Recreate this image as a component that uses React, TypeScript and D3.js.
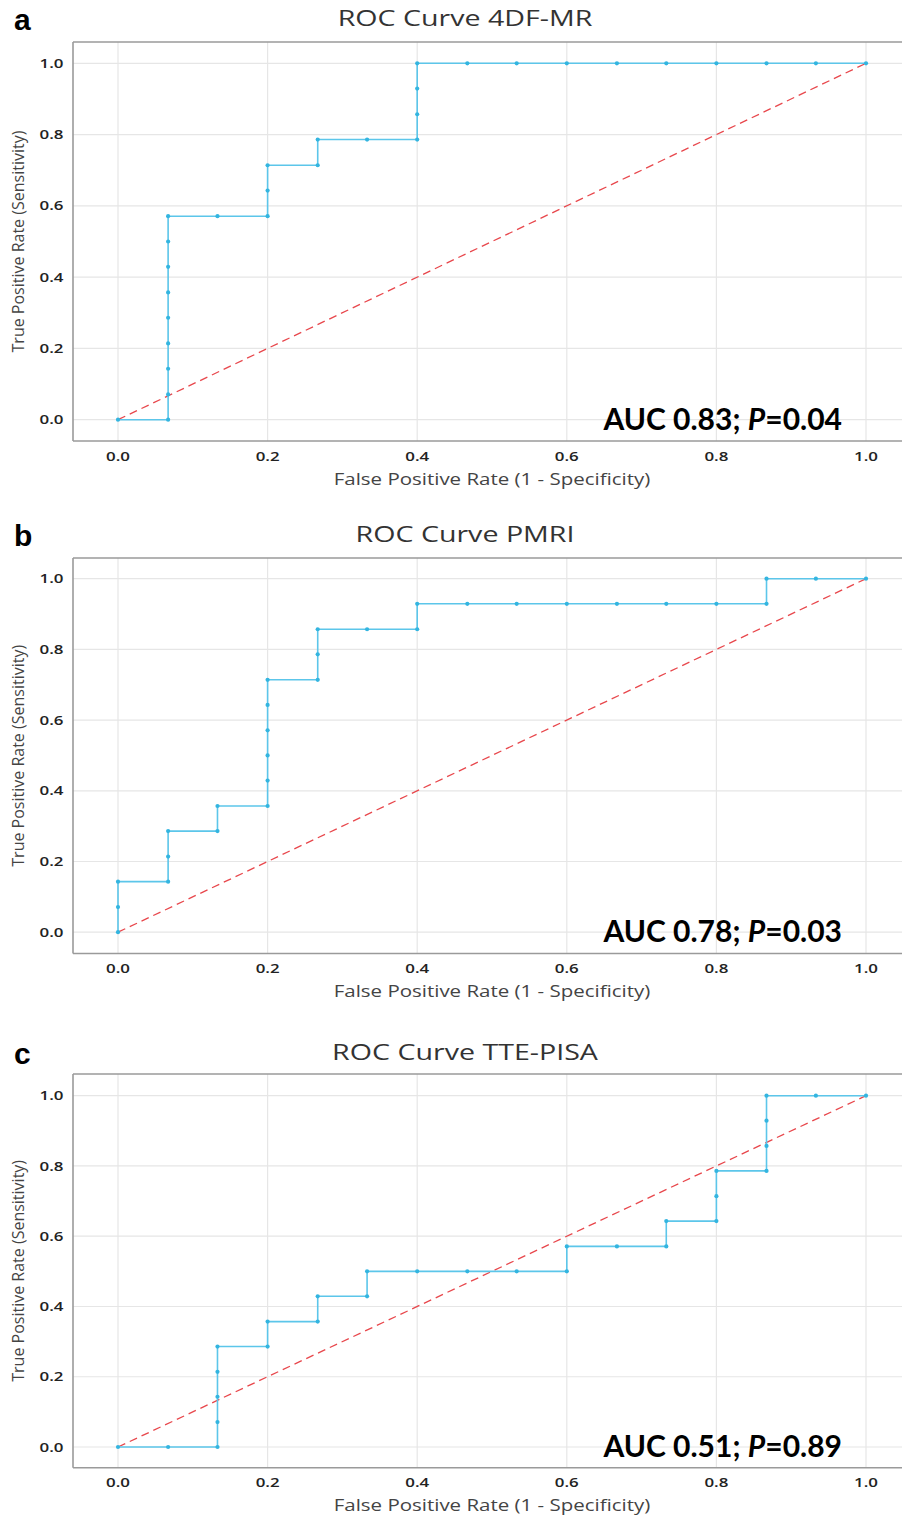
import React from 'react';
import * as d3 from 'd3';

const TICKS = [0, 0.2, 0.4, 0.6, 0.8, 1.0];

const fprA = [0, 0.067, 0.067, 0.067, 0.067, 0.067, 0.067, 0.067, 0.067, 0.067, 0.133, 0.2, 0.2, 0.2, 0.267, 0.267, 0.333, 0.4, 0.4, 0.4, 0.4, 0.467, 0.533, 0.6, 0.667, 0.733, 0.8, 0.867, 0.933, 1.0];
const tprA = [0, 0, 0.071, 0.143, 0.214, 0.286, 0.357, 0.429, 0.5, 0.571, 0.571, 0.571, 0.643, 0.714, 0.714, 0.786, 0.786, 0.786, 0.857, 0.929, 1, 1, 1, 1, 1, 1, 1, 1, 1, 1];

const fprB = [0, 0, 0, 0.067, 0.067, 0.067, 0.133, 0.133, 0.2, 0.2, 0.2, 0.2, 0.2, 0.2, 0.267, 0.267, 0.267, 0.333, 0.4, 0.4, 0.467, 0.533, 0.6, 0.667, 0.733, 0.8, 0.867, 0.867, 0.933, 1.0];
const tprB = [0, 0.071, 0.143, 0.143, 0.214, 0.286, 0.286, 0.357, 0.357, 0.429, 0.5, 0.571, 0.643, 0.714, 0.714, 0.786, 0.857, 0.857, 0.857, 0.929, 0.929, 0.929, 0.929, 0.929, 0.929, 0.929, 0.929, 1, 1, 1];

const fprC = [0, 0.067, 0.133, 0.133, 0.133, 0.133, 0.133, 0.2, 0.2, 0.267, 0.267, 0.333, 0.333, 0.4, 0.467, 0.533, 0.6, 0.6, 0.667, 0.733, 0.733, 0.8, 0.8, 0.8, 0.867, 0.867, 0.867, 0.867, 0.933, 1.0];
const tprC = [0, 0, 0, 0.071, 0.143, 0.214, 0.286, 0.286, 0.357, 0.357, 0.429, 0.429, 0.5, 0.5, 0.5, 0.5, 0.5, 0.571, 0.571, 0.571, 0.643, 0.643, 0.714, 0.786, 0.786, 0.857, 0.929, 1, 1, 1];

const panelLetters = ['a', 'b', 'c'];
const panelTitles = ['ROC Curve 4DF-MR', 'ROC Curve PMRI', 'ROC Curve TTE-PISA'];
const aucLabels = ['0.83', '0.78', '0.51'];
const pLabels = ['0.04', '0.03', '0.89'];

// layout of each panel on the page (px)
const PANELS = [
  { top: 42, yTop: 63.3, yBottom: 419.7, bottom: 441, title: 18, letter: 30 },
  { top: 558, yTop: 578.7, yBottom: 932.2, bottom: 953.5, title: 534, letter: 546 },
  { top: 1074, yTop: 1095.7, yBottom: 1447, bottom: 1467.7, title: 1052, letter: 1064 },
];

const WIDTH = 902;
const HEIGHT = 1516;
const FRAME_LEFT = 73;
const X0 = 118;
const X1 = 866;
// the source figure is stretched sideways, so its text is too
const STRETCH = 1.3;

const SANS = '"Open Sans", "Noto Sans", sans-serif';
const LINE_COLOR = '#5cc6ea';
const DOT_COLOR = '#33b5e0';
const REF_COLOR = '#e8474c';

const xScale = d3.scaleLinear().domain([0, 1]).range([X0, X1]);

const Panel = ({ idx, fpr, tpr }: { idx: number; fpr: number[]; tpr: number[] }) => {
  const p = PANELS[idx];
  const yScale = d3.scaleLinear().domain([0, 1]).range([p.yBottom, p.yTop]);
  const pts = fpr.map((f, i) => [f, tpr[i]] as [number, number]);
  const line = d3.line<[number, number]>()
    .x(d => xScale(d[0]))
    .y(d => yScale(d[1]));
  const diag = line([[0, 0], [1, 1]]);

  return (
    <g>
      {TICKS.map(t => (
        <line key={`gx${t}`} x1={xScale(t)} x2={xScale(t)} y1={p.top} y2={p.bottom}
          stroke="#e6e6e6" strokeWidth={1.2} />
      ))}
      {TICKS.map(t => (
        <line key={`gy${t}`} x1={FRAME_LEFT} x2={WIDTH} y1={yScale(t)} y2={yScale(t)}
          stroke="#e6e6e6" strokeWidth={1.2} />
      ))}
      <line x1={FRAME_LEFT} x2={WIDTH} y1={p.top} y2={p.top} stroke="#9a9a9a" strokeWidth={1.4} />
      <line x1={FRAME_LEFT} x2={FRAME_LEFT} y1={p.top} y2={p.bottom} stroke="#9a9a9a" strokeWidth={1.6} />
      <line x1={FRAME_LEFT} x2={WIDTH} y1={p.bottom} y2={p.bottom} stroke="#9a9a9a" strokeWidth={1.6} />

      {TICKS.map(t => (
        <text key={`ly${t}`} transform={`translate(63.5,${yScale(t)}) scale(${STRETCH},1)`} dy="0.35em"
          textAnchor="end" fontFamily={SANS} fontWeight={600} fontSize={13} fill="#222">{d3.format('.1f')(t)}</text>
      ))}
      {TICKS.map(t => (
        <text key={`lx${t}`} transform={`translate(${xScale(t)},${p.bottom + 15}) scale(${STRETCH},1)`} dy="0.35em"
          textAnchor="middle" fontFamily={SANS} fontWeight={600} fontSize={13} fill="#222">{d3.format('.1f')(t)}</text>
      ))}

      <path d={diag || ''} fill="none" stroke={REF_COLOR} strokeWidth={1.3} strokeDasharray="8,5" />
      <path d={line(pts) || ''} fill="none" stroke={LINE_COLOR} strokeWidth={1.6} />
      {pts.map((d, i) => (
        <circle key={i} cx={xScale(d[0])} cy={yScale(d[1])} r={2.1} fill={DOT_COLOR} />
      ))}

      <text transform={`translate(492,${p.bottom + 38}) scale(1.28,1)`} dy="0.35em" textAnchor="middle"
        fontFamily={SANS} fontSize={16} fill="#444">False Positive Rate (1 - Specificity)</text>
      <text transform={`translate(18,${(p.top + p.bottom) / 2}) rotate(-90)`} dy="0.35em"
        textAnchor="middle" fontFamily={SANS} fontSize={16} fill="#444">True Positive Rate (Sensitivity)</text>
      <text transform={`translate(465,${p.title}) scale(1.3,1)`} dy="0.35em" textAnchor="middle"
        fontFamily={SANS} fontSize={22} fill="#333">{panelTitles[idx]}</text>
      <text x={14} y={p.letter} fontFamily='"Liberation Sans", Arial, sans-serif' fontWeight="bold"
        fontSize={30} fill="#000">{panelLetters[idx]}</text>
      <text x={842} y={p.yBottom + 10} textAnchor="end" fontFamily='Lato, "Open Sans", sans-serif'
        fontWeight="bold" fontSize={30} fill="#000">
        AUC {aucLabels[idx]}; <tspan fontStyle="italic">P</tspan>={pLabels[idx]}
      </text>
    </g>
  );
};

const App = () => (
  <svg width={WIDTH} height={HEIGHT} style={{ position: 'absolute', left: 0, top: 0, background: '#fff' }}>
    <rect width={WIDTH} height={HEIGHT} fill="#fff" />
    <Panel idx={0} fpr={fprA} tpr={tprA} />
    <Panel idx={1} fpr={fprB} tpr={tprB} />
    <Panel idx={2} fpr={fprC} tpr={tprC} />
  </svg>
);

export default App;
